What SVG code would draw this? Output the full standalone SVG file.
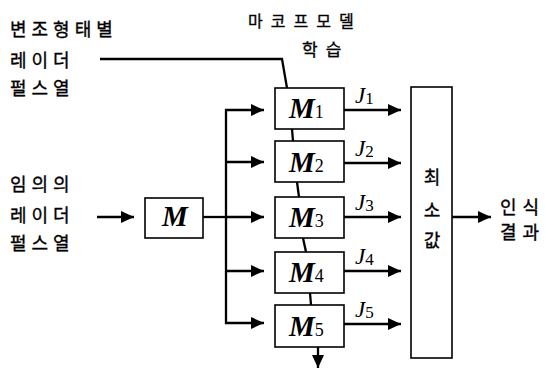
<svg xmlns="http://www.w3.org/2000/svg" width="546" height="368" viewBox="0 0 546 368">
  <style>
    .box { fill: #fff; stroke: #000; stroke-width: 1.6; }
    .wire { fill: none; stroke: #000; stroke-width: 2.3; }
    .arrow { fill: none; stroke: #000; stroke-width: 2.3; marker-end: url(#head); }
    .ko { font-family: "Noto Sans CJK KR", "Noto Sans", sans-serif; font-size: 18px; fill: #000; stroke: #000; stroke-width: 0.35; }
    .sym { font-family: "Liberation Serif", "DejaVu Serif", serif; font-style: italic; font-weight: bold; font-size: 29px; fill: #000; }
    .sub { font-family: "Liberation Serif", "DejaVu Serif", serif; font-style: normal; font-weight: normal; font-size: 18px; }
    .jl { font-family: "Liberation Serif", "DejaVu Serif", serif; font-style: italic; font-size: 23px; fill: #000; }
    .jsub { font-style: normal; font-size: 17px; }
  </style>
  <defs>
    <marker id="head" markerUnits="userSpaceOnUse" markerWidth="14" markerHeight="12" refX="13" refY="6" orient="auto">
      <path d="M0,0 L13,6 L0,12 Z" fill="#000"/>
    </marker>
  </defs>
  <rect width="546" height="368" fill="#fff"/>

  <!-- input labels -->
  <g id="label-training" class="ko" letter-spacing="5">
    <text x="10" y="36">변조형태별</text>
    <text x="10" y="67">레이더</text>
    <text x="10" y="95">펄스열</text>
  </g>
  <g id="label-input" class="ko" letter-spacing="5">
    <text x="10" y="191">임의의</text>
    <text x="10" y="222">레이더</text>
    <text x="10" y="250">펄스열</text>
  </g>
  <g id="label-learning" class="ko" letter-spacing="8">
    <text x="248" y="27" font-size="16">마코프모델</text>
    <text x="302" y="56" font-size="17">학습</text>
  </g>

  <!-- connectors -->
  <g id="connectors">
    <polyline class="wire" points="100,59 282,59 287,88"/>
    <line class="arrow" x1="97" y1="217" x2="134" y2="217"/>
    <line class="wire" x1="203" y1="217" x2="226" y2="217"/>
    <line class="wire" x1="226" y1="109" x2="226" y2="324"/>
    <line class="arrow" x1="225" y1="110" x2="264" y2="110"/>
    <line class="arrow" x1="225" y1="162" x2="264" y2="162"/>
    <line class="arrow" x1="225" y1="217" x2="264" y2="217"/>
    <line class="arrow" x1="225" y1="271" x2="264" y2="271"/>
    <line class="arrow" x1="225" y1="323" x2="264" y2="323"/>
    <line class="wire" x1="292" y1="129" x2="293" y2="141"/>
    <line class="wire" x1="297" y1="182" x2="299" y2="197"/>
    <line class="wire" x1="303" y1="238" x2="306" y2="252"/>
    <line class="wire" x1="310" y1="293" x2="311" y2="305"/>
    <line class="arrow" x1="318" y1="347" x2="318" y2="368"/>
    <line class="arrow" x1="344" y1="110" x2="401" y2="110"/>
    <line class="arrow" x1="344" y1="163" x2="401" y2="163"/>
    <line class="arrow" x1="344" y1="217" x2="401" y2="217"/>
    <line class="arrow" x1="344" y1="271" x2="401" y2="271"/>
    <line class="arrow" x1="344" y1="324" x2="401" y2="324"/>
    <line class="arrow" x1="452" y1="217" x2="491" y2="217"/>
  </g>

  <!-- output labels J1..J5 -->
  <g id="scores" class="jl">
    <text x="355" y="103">J<tspan class="jsub" dy="1">1</tspan></text>
    <text x="355" y="156">J<tspan class="jsub" dy="1">2</tspan></text>
    <text x="355" y="210">J<tspan class="jsub" dy="1">3</tspan></text>
    <text x="355" y="264">J<tspan class="jsub" dy="1">4</tspan></text>
    <text x="355" y="317">J<tspan class="jsub" dy="1">5</tspan></text>
  </g>

  <!-- front-end model -->
  <g id="node-M">
    <rect class="box" x="145" y="198" width="58" height="40"/>
    <text class="sym" x="175" y="226" text-anchor="middle" font-size="28">M</text>
  </g>

  <!-- Markov models -->
  <g id="node-M1">
    <rect class="box" x="275" y="88" width="69" height="41"/>
    <text class="sym" x="289" y="118">M<tspan class="sub">1</tspan></text>
  </g>
  <g id="node-M2">
    <rect class="box" x="275" y="141" width="69" height="41"/>
    <text class="sym" x="289" y="172">M<tspan class="sub">2</tspan></text>
  </g>
  <g id="node-M3">
    <rect class="box" x="275" y="197" width="69" height="41"/>
    <text class="sym" x="289" y="227">M<tspan class="sub">3</tspan></text>
  </g>
  <g id="node-M4">
    <rect class="box" x="275" y="252" width="69" height="41"/>
    <text class="sym" x="289" y="282">M<tspan class="sub">4</tspan></text>
  </g>
  <g id="node-M5">
    <rect class="box" x="275" y="305" width="69" height="42"/>
    <text class="sym" x="289" y="336">M<tspan class="sub">5</tspan></text>
  </g>

  <!-- minimum selector -->
  <g id="node-min">
    <rect class="box" x="411" y="87" width="41" height="271"/>
    <g class="ko" text-anchor="middle">
      <text x="432" y="184">최</text>
      <text x="432" y="217">소</text>
      <text x="432" y="247">값</text>
    </g>
  </g>

  <g id="label-result" class="ko" font-size="19" letter-spacing="6">
    <text x="500" y="214">인식</text>
    <text x="500" y="239">결과</text>
  </g>
</svg>
